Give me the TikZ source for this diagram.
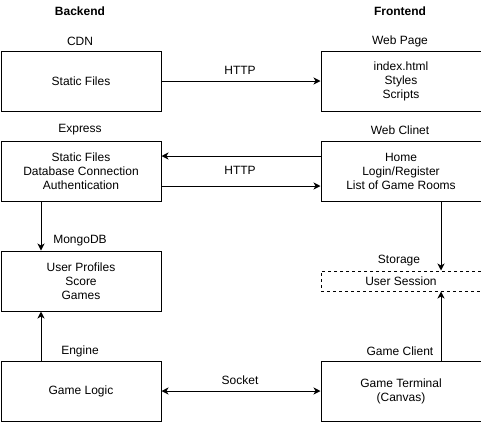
\documentclass[tikz,border=0pt]{standalone}
\usepackage{fontspec}
\setmainfont{Liberation Sans}
\usetikzlibrary{arrows.meta}
\begin{document}
\begin{tikzpicture}[x=1pt,y=-1pt,
  font=\fontsize{12}{14}\selectfont,
  box/.style={draw, line width=1pt, minimum width=160pt, minimum height=60pt, align=center, inner sep=0pt, anchor=north west},
  dbox/.style={box, minimum height=20pt, dash pattern=on 3pt off 3pt},
  lbl/.style={inner sep=0pt, align=center},
  arr/.style={line width=1pt, -{Stealth[length=7pt,width=7pt,inset=2pt]}},
  arrb/.style={line width=1pt, {Stealth[length=7pt,width=7pt,inset=2pt]}-{Stealth[length=7pt,width=7pt,inset=2pt]}}
]
\useasboundingbox (0,0) rectangle (481,421);
% headers
\node[lbl] (hb) at (80,11) {\textbf{Backend}};
\node[lbl] (hf) at (400,11) {\textbf{Frontend}};
% boxes
\node[box] (cdn) at (0.5,50.5) {Static Files};
\node[box] (wp) at (320.5,50.5) {index.html\\Styles\\Scripts};
\node[box] (ex) at (0.5,140.5) {Static Files\\Database Connection\\Authentication};
\node[box] (wc) at (320.5,140.5) {Home\\Login/Register\\List of Game Rooms};
\node[box] (db) at (0.5,250.5) {User Profiles\\Score\\Games};
\node[dbox] (st) at (320.5,270.5) {User Session};
\node[box] (en) at (0.5,360.5) {Game Logic};
\node[box] (gc) at (320.5,360.5) {Game Terminal\\(Canvas)};
% titles
\node[lbl] (tcdn) at (80,41) {CDN};
\node[lbl] (twp) at (400,41) {Web Page};
\node[lbl] (tex) at (80,130) {Express};
\node[lbl] (twc) at (400,130) {Web Clinet};
\node[lbl] (tdb) at (80,241) {MongoDB};
\node[lbl] (tst) at (399,261) {Storage};
\node[lbl] (ten) at (80,351) {Engine};
\node[lbl] (tgc) at (400,351) {Game Client};
% connector labels
\node[lbl] (h1) at (240,70) {HTTP};
\node[lbl] (h2) at (240,170) {HTTP};
\node[lbl] (so) at (240,380) {Socket};
% connectors
\draw[arr] (cdn) -- (wp);
\draw[arr] ([yshift=15pt]wc.west) -- ([yshift=15pt]ex.east);
\draw[arr] ([yshift=-15pt]ex.east) -- ([yshift=-15pt]wc.west);
\draw[arr] ([xshift=-40pt]ex.south) -- ([xshift=-40pt]db.north);
\draw[arr] ([xshift=-40pt]en.north) -- ([xshift=-40pt]db.south);
\draw[arr] ([xshift=40pt]wc.south) -- ([xshift=40pt]st.north);
\draw[arr] ([xshift=40pt]gc.north) -- ([xshift=40pt]st.south);
\draw[arrb] (en) -- (gc);
\end{tikzpicture}
\end{document}
